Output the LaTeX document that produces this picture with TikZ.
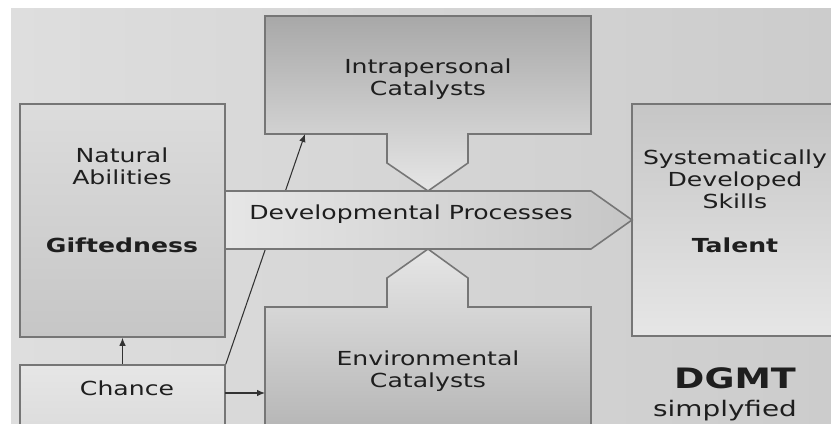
\documentclass[tikz,border=0pt]{standalone}
\usepackage{fontspec}
\setmainfont[FakeStretch=1.3]{DejaVu Sans}
\usetikzlibrary{arrows.meta}
\definecolor{DgFrame}{RGB}{118,118,118}
\definecolor{DgLine}{RGB}{50,50,50}
\definecolor{DgText}{RGB}{30,30,30}
\definecolor{DgBackL}{RGB}{222,222,222}
\definecolor{DgBackR}{RGB}{204,204,204}
\definecolor{DgPale}{RGB}{230,230,230}
\definecolor{DgLight}{RGB}{220,220,220}
\definecolor{DgMid}{RGB}{198,198,198}
\definecolor{DgDark}{RGB}{168,168,168}
\definecolor{DgDeep}{RGB}{182,182,182}
\tikzset{
  dg/box/.style={
    draw=DgFrame,
    line width=0.9pt,
    inner sep=0pt
  },
  dg/shape/.style={draw=DgFrame, line width=0.9pt, line join=miter},
  dg/text/.style={
    font=\fontsize{11}{12.5}\selectfont,
    text=DgText,
    align=center,
    inner sep=0pt
  },
  dg/bold/.style={dg/text, font=\fontsize{11}{12.5}\selectfont\bfseries},
  dg/title/.style={dg/text, font=\fontsize{16}{18}\selectfont\bfseries},
  dg/sub/.style={dg/text, font=\fontsize{12.2}{14}\selectfont},
  dg/arrow/.style={-{Latex[length=1.6mm,width=1.3mm]}, draw=DgLine, line width=0.6pt}
}

\begin{document}
\begin{tikzpicture}[x=0.02cm,y=-0.02cm]
  \useasboundingbox (0,0) rectangle (831,425);
  \clip (11,9) rectangle (831,423);
  \fill[left color=DgBackL, right color=DgBackR] (11,9) rectangle (831,423);
  % boxes
  \node[dg/box, top color=DgLight, bottom color=DgMid, minimum width=4.1cm, minimum height=4.66cm] (natural) at (122.5,220.5) {};
  \node[dg/box, top color=DgPale, bottom color=DgLight, minimum width=4.1cm, minimum height=1.3cm] (chance) at (122.5,397.5) {};
  \node[dg/box, top color=DgMid, bottom color=DgPale, minimum width=4.12cm, minimum height=4.64cm] (talent) at (735,220) {};
  \draw[dg/shape, top color=DgDark, bottom color=DgPale]
    (265,16) -- (591,16) -- (591,134) -- (468,134) -- (468,163) -- (428,191)
    -- (387,163) -- (387,134) -- (265,134) -- cycle;
  \draw[dg/shape, top color=DgPale, bottom color=DgDeep]
    (265,307) -- (387,307) -- (387,278) -- (428,249) -- (468,278) -- (468,307)
    -- (591,307) -- (591,430) -- (265,430) -- cycle;
  \coordinate (intrahit) at (305,134);
  \draw[dg/arrow] (chance.north east) -- (intrahit);
  \draw[dg/shape, left color=DgPale, right color=DgMid]
    (225,191) -- (591,191) -- (632,220) -- (591,249) -- (225,249) -- cycle;
  % texts
  \node[dg/text] (intra) at (428,79) {Intrapersonal\\Catalysts};
  \node[dg/text] (abilities) at (122,166) {Natural\\Abilities};
  \node[dg/bold] (gifted) at (122,245) {Giftedness};
  \node[dg/text] (dev) at (411,214) {Developmental Processes};
  \node[dg/text] (skills) at (735,179) {Systematically\\Developed\\Skills};
  \node[dg/bold] (talentlabel) at (735,245) {Talent};
  \node[dg/text] (env) at (428,371) {Environmental\\Catalysts};
  \node[dg/text] (chancelabel) at (127,388) {Chance};
  \node[dg/title] (dgmt) at (735,378) {DGMT};
  \node[dg/sub] (simpl) at (725,411) {simplyfied};
  % arrows
  \coordinate (chanceout) at (225,393);
  \coordinate (envin) at (265,393);
  \draw[dg/arrow] (chance.north) -- (natural.south);
  \draw[dg/arrow] (chanceout) -- (envin);
\end{tikzpicture}
\end{document}
